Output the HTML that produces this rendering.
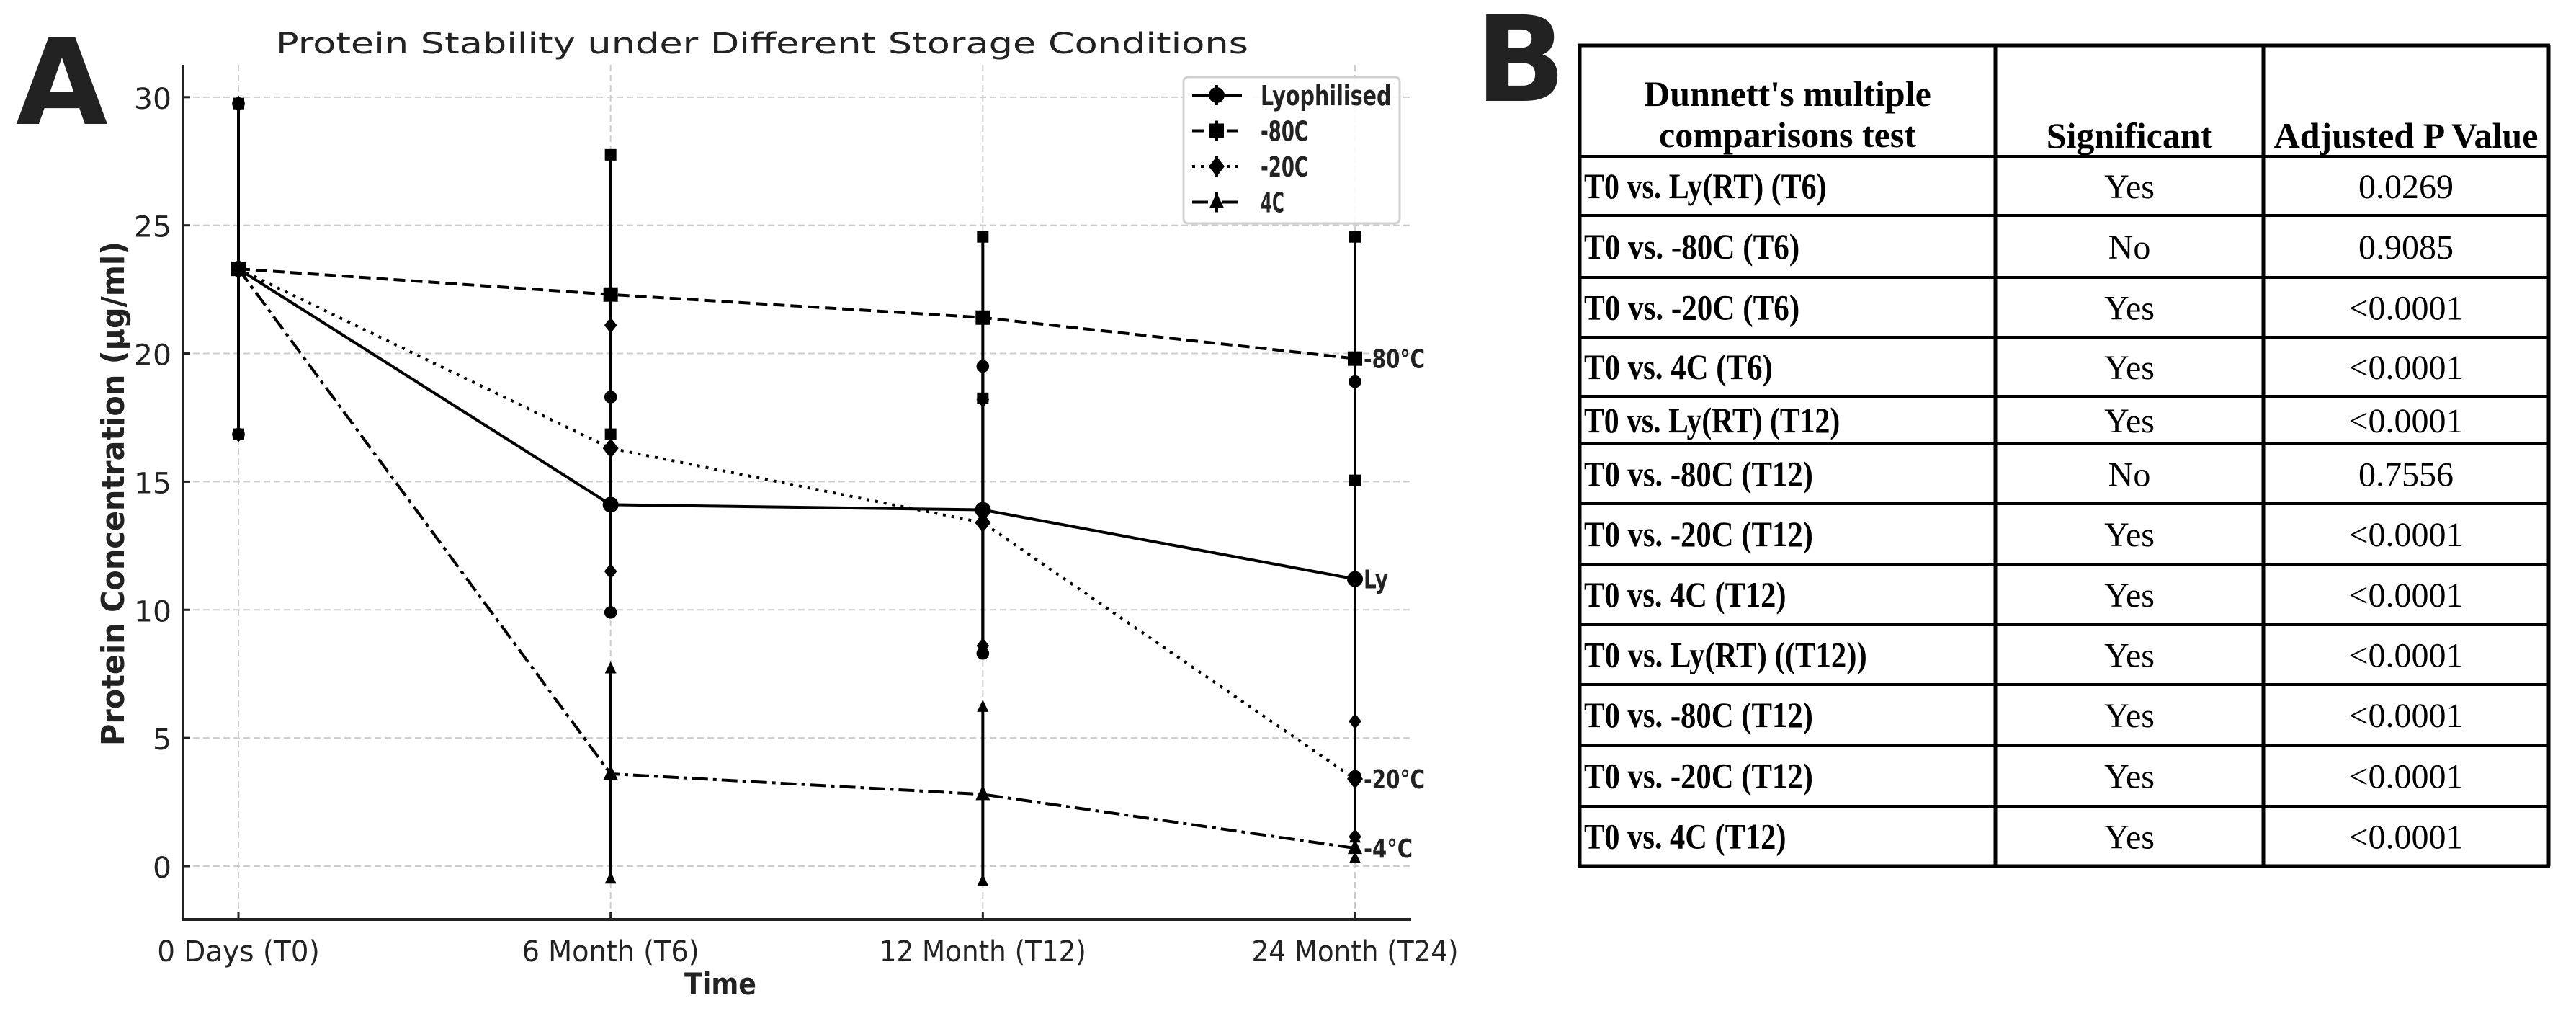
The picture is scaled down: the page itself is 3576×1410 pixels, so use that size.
<!DOCTYPE html>
<html><head><meta charset="utf-8">
<style>
html,body{margin:0;padding:0;background:#fff;}
svg{display:block;}
.tk{font-family:"DejaVu Sans","Liberation Sans",sans-serif;font-size:40px;fill:#222;}
.bd{font-family:"DejaVu Sans","Liberation Sans",sans-serif;font-weight:bold;fill:#222;}
.ser{font-family:"Liberation Serif",serif;fill:#000;}
</style></head>
<body>
<svg id="fig" width="3576" height="1410" viewBox="0 0 3576 1410" xmlns="http://www.w3.org/2000/svg">
<text x="22" y="172" class="bd" font-size="165" fill="#000">A</text>
<text x="2048" y="140" class="bd" font-size="165" fill="#000">B</text>
<text x="1058" y="74" class="tk" font-size="54" text-anchor="middle" textLength="1350" lengthAdjust="spacingAndGlyphs" fill="#333">Protein Stability under Different Storage Conditions</text>
<g id="grid"></g>
<g id="plot"></g>
<g id="axes"></g>
<g id="legend"></g>
<g id="table"></g>
</svg>
<script>
const categories = ["0 Days (T0)", "6 Month (T6)", "12 Month (T12)", "24 Month (T24)"];
const yTicks = [0, 5, 10, 15, 20, 25, 30];
const seriesNames = ["Lyophilised", "-80C", "-20C", "4C"];
const endLabels = ["Ly", "-80°C", "-20°C", "-4°C"];
const lyMean = [23.3, 14.1, 13.9, 11.2];
const lyErr = [6.45, 4.2, 5.6, 7.7];
const m80Mean = [23.3, 22.3, 21.4, 19.8];
const m80Err = [6.45, 5.45, 3.15, 4.75];
const m20Mean = [23.3, 16.3, 13.4, 3.4];
const m20Err = [6.45, 4.8, 4.8, 2.25];
const c4Mean = [23.3, 3.6, 2.8, 0.7];
const c4Err = [6.45, 4.1, 3.4, 0.4];

const tableHeader = ["Dunnett's multiple|comparisons test", "Significant", "Adjusted P Value"];
const tableComparisons = ["T0 vs. Ly(RT) (T6)","T0 vs. -80C (T6)","T0 vs. -20C (T6)","T0 vs. 4C (T6)","T0 vs. Ly(RT) (T12)","T0 vs. -80C (T12)","T0 vs. -20C (T12)","T0 vs. 4C (T12)","T0 vs. Ly(RT) ((T12))","T0 vs. -80C (T12)","T0 vs. -20C (T12)","T0 vs. 4C (T12)"];
const tableSignificant = ["Yes","No","Yes","Yes","Yes","No","Yes","Yes","Yes","Yes","Yes","Yes"];
const tablePValues = ["0.0269","0.9085","<0.0001","<0.0001","<0.0001","0.7556","<0.0001","<0.0001","<0.0001","<0.0001","<0.0001","<0.0001"];

const NS = "http://www.w3.org/2000/svg";
const L = 254, R = 1959, T = 90, B = 1276;
const yMin = -2.08, yMax = 31.26;
function xs(i){ return 331 + i * (1881 - 331) / (categories.length - 1); }
function ys(v){ return B - (v - yMin) / (yMax - yMin) * (B - T); }
function mk(tag, attrs, parent){ const e = document.createElementNS(NS, tag); for (const k in attrs) e.setAttribute(k, attrs[k]); parent.appendChild(e); return e; }

const grid = document.getElementById('grid');
const plot = document.getElementById('plot');
const axes = document.getElementById('axes');

yTicks.forEach(v => {
  const g = mk('line', {x1:L, x2:R, y1:ys(v), y2:ys(v), stroke:'#ccc', 'stroke-width':2, 'stroke-dasharray':'9,5'}, grid);
  
  
  const t = mk('line', {x1:L, x2:L+10, y1:ys(v), y2:ys(v), stroke:'#222', 'stroke-width':3}, axes);
  
  
  const tx = mk('text', {x:L-16, y:ys(v)+16, 'text-anchor':'end', class:'tk', 'font-size':48, textLength: String(v).length*26, lengthAdjust:'spacingAndGlyphs'}, axes);
  tx.textContent = v;
  
  
});
categories.forEach((c, i) => {
  const g = mk('line', {x1:xs(i), x2:xs(i), y1:T, y2:B, stroke:'#ccc', 'stroke-width':2, 'stroke-dasharray':'9,5'}, grid);
  
  
  const t = mk('line', {x1:xs(i), x2:xs(i), y1:B, y2:B-10, stroke:'#222', 'stroke-width':3}, axes);
  
  
  const tx = mk('text', {x:xs(i), y:1334, 'text-anchor':'middle', class:'tk', 'font-size':50, textLength: c.length*20.5, lengthAdjust:'spacingAndGlyphs'}, axes);
  tx.textContent = c;
  
  
});
let sp = mk('path', {d:`M${L},${T} V${B} H${R}`, fill:'none', stroke:'#222', 'stroke-width':4}, axes);


let xt = mk('text', {x:1000, y:1380, 'text-anchor':'middle', class:'bd', 'font-size':42, textLength:100, lengthAdjust:'spacingAndGlyphs'}, axes);
xt.textContent = 'Time';


let yt = mk('text', {x:0, y:0, 'text-anchor':'middle', class:'bd', 'font-size':44, transform:'translate(172,685) rotate(-90)', textLength:700, lengthAdjust:'spacingAndGlyphs'}, axes);
yt.textContent = 'Protein Concentration (µg/ml)';



function marker(type, x, y, s, parent){
  let e;
  if (type === 'circle') e = mk('circle', {cx:x, cy:y, r:s*0.55, fill:'#000'}, parent);
  else if (type === 'square') e = mk('rect', {x:x-s*0.5, y:y-s*0.5, width:s, height:s, fill:'#000'}, parent);
  else if (type === 'diamond') e = mk('path', {d:`M${x},${y-s*0.7} L${x+s*0.55},${y} L${x},${y+s*0.7} L${x-s*0.55},${y} Z`, fill:'#000'}, parent);
  else e = mk('path', {d:`M${x},${y-s*0.65} L${x+s*0.5},${y+s*0.4} L${x-s*0.5},${y+s*0.4} Z`, fill:'#000'}, parent);
  return e;
}
const seriesMeans = [lyMean, m80Mean, m20Mean, c4Mean];
const seriesErrs = [lyErr, m80Err, m20Err, c4Err];
const markers = ['circle','square','diamond','triangle'];
const dashes = ['none','16,8','4,8','22,7,5,7'];
const seriesKeys = ['lyophilised','minus80c','minus20c','4c'];
seriesMeans.forEach((mean, s) => {
  const g = mk('g', {}, plot);
  
  
  const d = mean.map((v, i) => (i ? 'L' : 'M') + xs(i) + ',' + ys(v)).join(' ');
  const ln = mk('path', {d:d, fill:'none', stroke:'#000', 'stroke-width':4, 'stroke-dasharray':dashes[s]}, g);
  
  
  mean.forEach((v, i) => {
    const e = seriesErrs[s][i];
    const eb = mk('line', {x1:xs(i), x2:xs(i), y1:ys(v+e), y2:ys(v-e), stroke:'#000', 'stroke-width':4}, g);
    
    
    const c1 = marker(markers[s], xs(i), ys(v+e), 16, g);
    
    
    const c2 = marker(markers[s], xs(i), ys(v-e), 16, g);
    
    
    const p = marker(markers[s], xs(i), ys(v), 20, g);
    
    
  });
  const n = mean.length - 1;
  const lb = mk('text', {x:xs(n)+12, y:ys(mean[n])+13, class:'bd', 'font-size':36, fill:'#000', textLength: endLabels[s].length*17, lengthAdjust:'spacingAndGlyphs'}, g);
  lb.textContent = endLabels[s];
  
  
});

// legend
const lg = document.getElementById('legend');
let box = mk('rect', {x:1643, y:107, width:300, height:203, rx:6, fill:'#fff', 'fill-opacity':0.9, stroke:'#d0d0d0', 'stroke-width':3}, lg);


seriesNames.forEach((nm, s) => {
  const y = 132 + s * 49.5;
  const g = mk('g', {}, lg);
  
  
  mk('line', {x1:1655, x2:1724, y1:y, y2:y, stroke:'#000', 'stroke-width':4, 'stroke-dasharray':dashes[s]}, g);
  mk('line', {x1:1689, x2:1689, y1:y-14, y2:y+14, stroke:'#000', 'stroke-width':4}, g);
  marker(markers[s], 1689, y, 20, g);
  const t = mk('text', {x:1750, y:y+14, class:'bd', 'font-size':38, textLength: nm.length*16.5, lengthAdjust:'spacingAndGlyphs'}, g);
  t.textContent = nm;
});

// table
const tb = document.getElementById('table');
const TL = 2193, TR = 3538, TT = 63, TB = 1202;
const colX = [TL, 2770, 3142, TR];
const rowY = [63, 217, 299, 385, 468, 550, 616, 699, 783, 867, 950, 1034, 1119, 1202];
rowY.forEach((y, i) => {
  const l = mk('line', {x1:TL-2, x2:TR+2, y1:y, y2:y, stroke:'#000', 'stroke-width':(i===0||i===rowY.length-1)?5:4}, tb);
  
  
});
colX.forEach(x => {
  const l = mk('line', {x1:x, x2:x, y1:TT, y2:TB, stroke:'#000', 'stroke-width':5}, tb);
  
  
});
const h0 = tableHeader[0].split('|');
[[h0[0], 132], [h0[1], 189]].forEach(([t, y]) => {
  const e = mk('text', {x:(colX[0]+colX[1])/2, y:y+15, 'text-anchor':'middle', class:'ser', 'font-size':50, 'font-weight':'bold'}, tb);
  e.textContent = t;
  
  
});
[1, 2].forEach(c => {
  const e = mk('text', {x:(colX[c]+colX[c+1])/2, y:205, 'text-anchor':'middle', class:'ser', 'font-size':50, 'font-weight':'bold'}, tb);
  e.textContent = tableHeader[c];
  
  
});
tableComparisons.forEach((cmp, r) => {
  const yb = (rowY[r+1] + rowY[r+2]) / 2 + 17;
  const a = mk('text', {x:TL+6, y:yb, class:'ser', 'font-size':50, 'font-weight':'bold', textLength: cmp.length*18.7, lengthAdjust:'spacingAndGlyphs'}, tb);
  a.textContent = cmp;
  
  
  const b = mk('text', {x:(colX[1]+colX[2])/2, y:yb, 'text-anchor':'middle', class:'ser', 'font-size':48}, tb);
  b.textContent = tableSignificant[r];
  
  
  const c = mk('text', {x:(colX[2]+colX[3])/2, y:yb, 'text-anchor':'middle', class:'ser', 'font-size':48}, tb);
  c.textContent = tablePValues[r];
  
  
});
</script>
</body></html>
